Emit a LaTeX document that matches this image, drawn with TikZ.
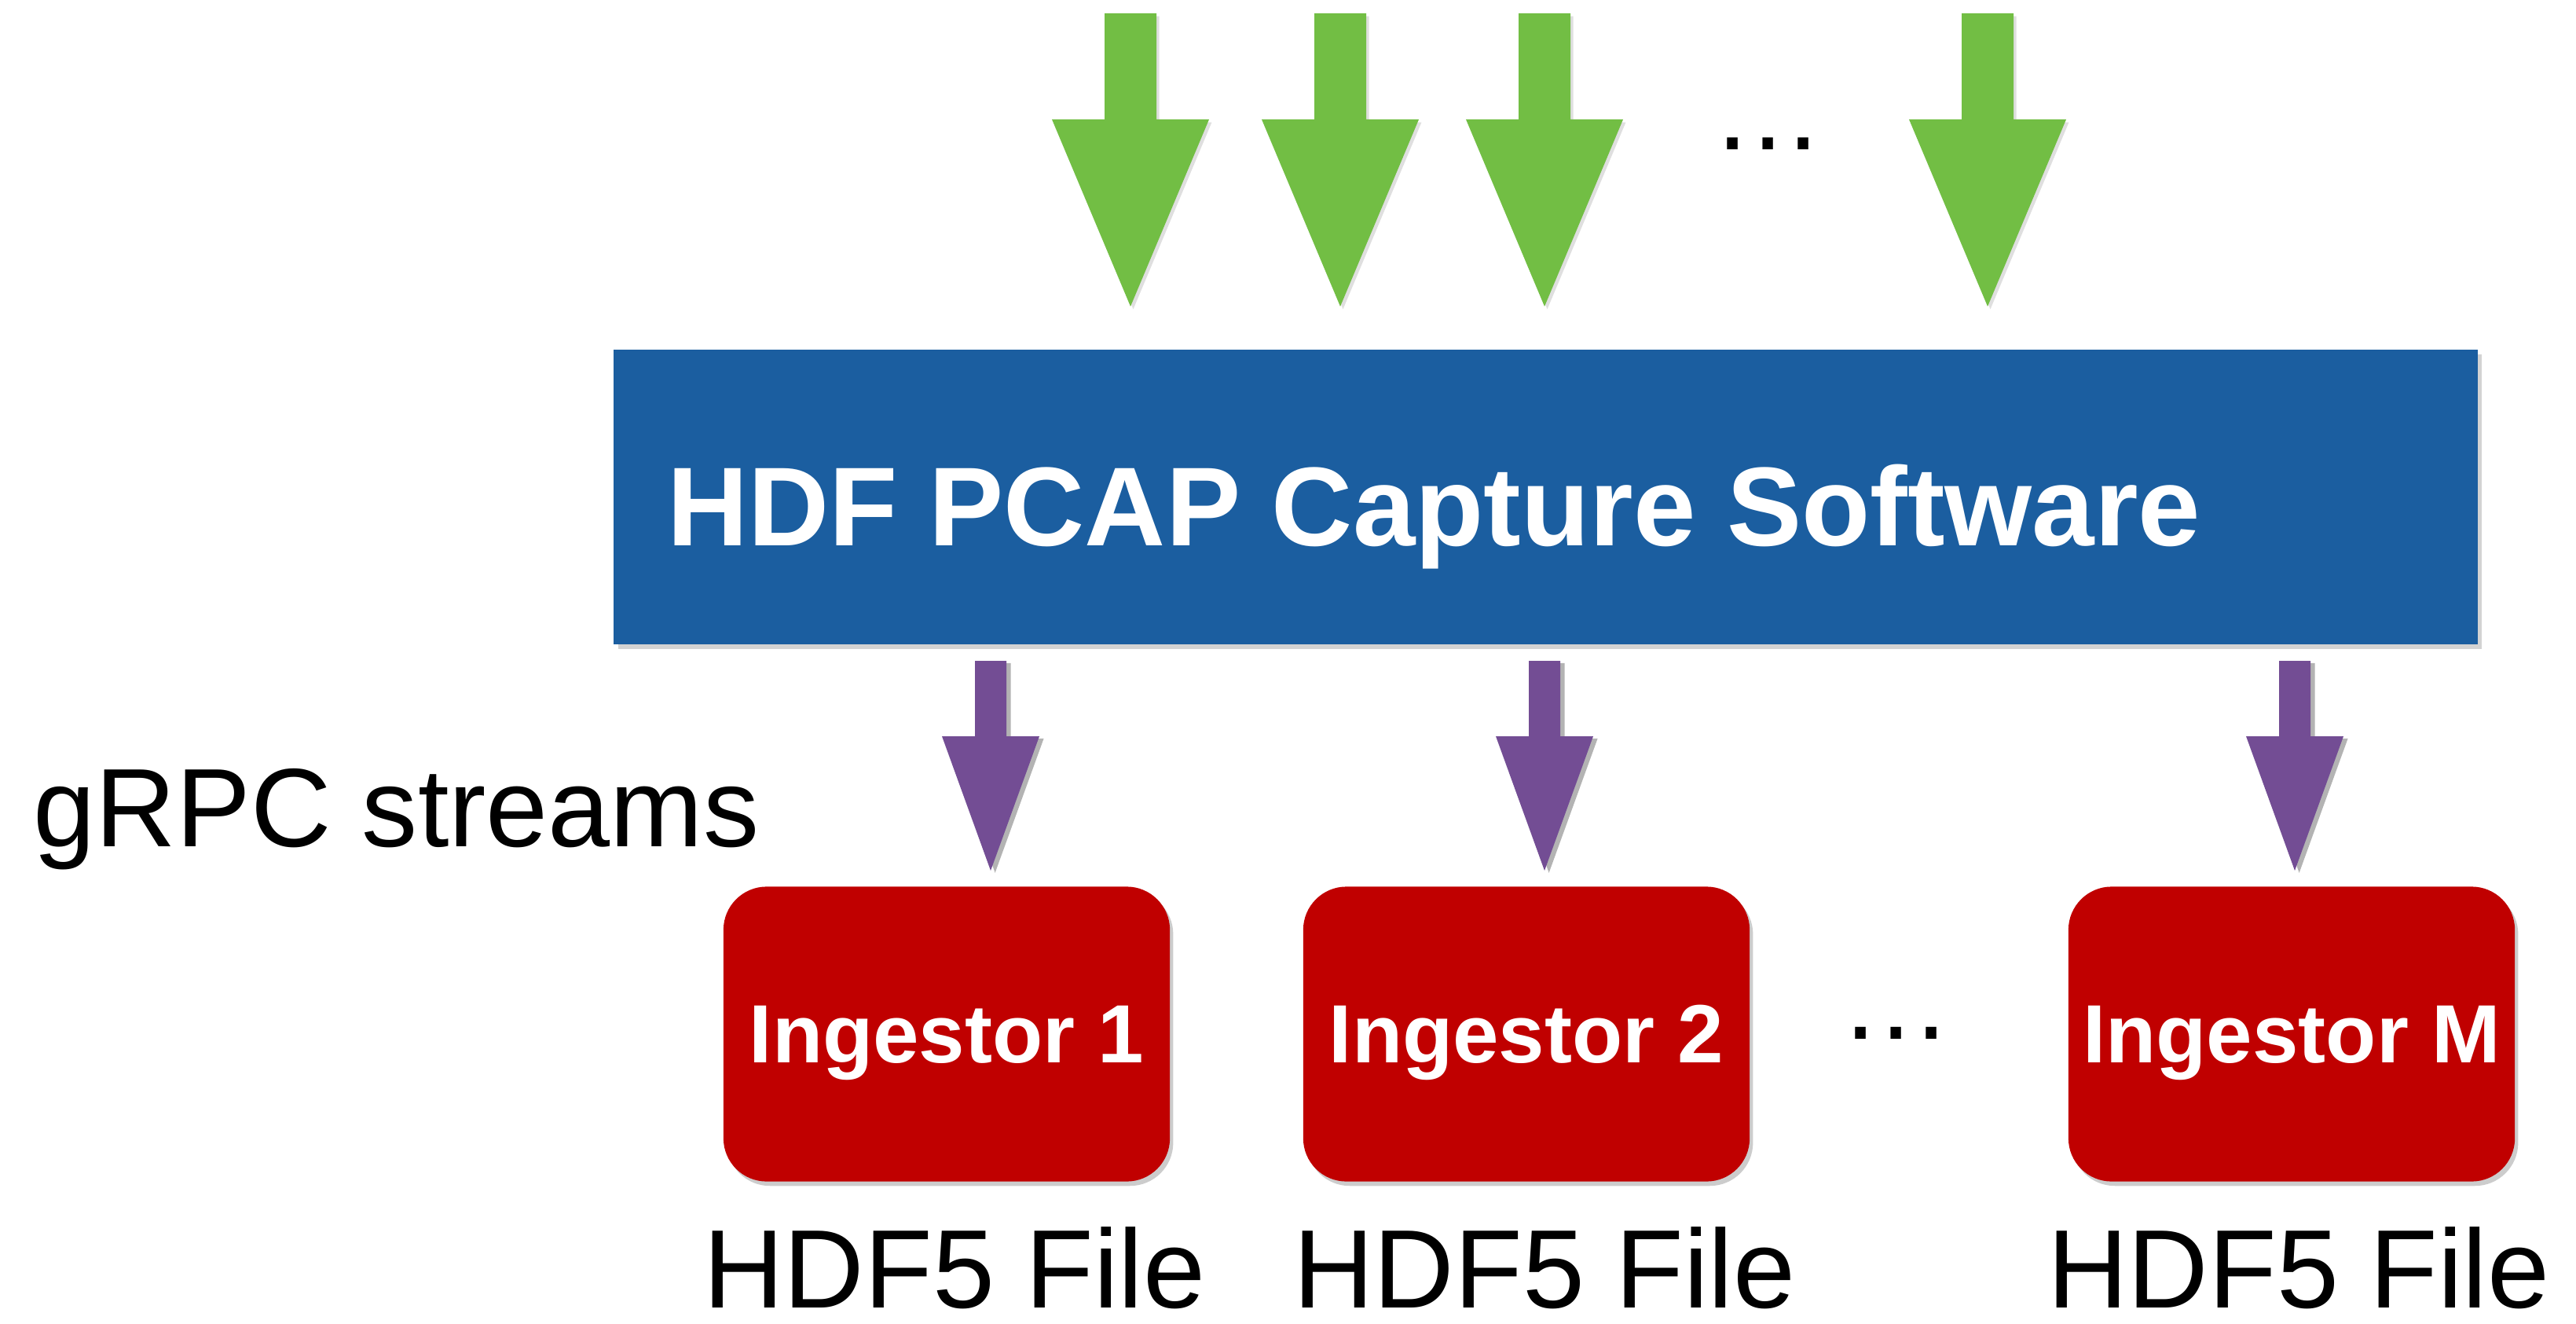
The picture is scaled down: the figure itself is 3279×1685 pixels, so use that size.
\documentclass[tikz,border=0pt]{standalone}
\usepackage{fontspec}
\setmainfont{Liberation Sans}
\usetikzlibrary{shadows}
\definecolor{capblue}{RGB}{27,94,160}
\definecolor{ingred}{RGB}{192,0,0}
\definecolor{ingreen}{RGB}{114,190,68}
\definecolor{grpcpurple}{RGB}{115,77,148}
\tikzset{
  bigtext/.style={font=\fontsize{40.4pt}{48pt}\selectfont, inner sep=0pt},
  filetext/.style={bigtext, text depth=0pt, anchor=base},
  captext/.style={font=\bfseries\fontsize{40.6pt}{48pt}\selectfont, text=white, inner sep=0pt},
  capbox/.style={fill=capblue, draw=none, minimum width=23.71cm, minimum height=3.75cm,
    drop shadow={shadow xshift=1.6pt, shadow yshift=-1.6pt, opacity=0.35}},
  ingbox/.style={fill=ingred, draw=none, rounded corners=0.55cm, minimum width=5.68cm, minimum height=3.75cm,
    text=white, font=\bfseries\fontsize{29.9pt}{36pt}\selectfont, text depth=0pt, inner sep=0pt,
    drop shadow={shadow xshift=1.2pt, shadow yshift=-1.6pt, opacity=0.4}},
  greenarrow/.pic={
    \fill[ingreen, drop shadow={shadow xshift=1pt, shadow yshift=-1pt, opacity=0.25}]
      (-33,-373) -- (33,-373) -- (33,-238) -- (100,-238) -- (0,0) -- (-100,-238) -- (-33,-238) -- cycle;
  },
  purplearrow/.pic={
    \fill[grpcpurple, drop shadow={shadow xshift=1.6pt, shadow yshift=-0.8pt, opacity=0.6}]
      (-20,-267) -- (20,-267) -- (20,-171) -- (62,-171) -- (0,0) -- (-62,-171) -- (-20,-171) -- cycle;
  },
}
\begin{document}
\begin{tikzpicture}[x=0.01cm, y=-0.01cm]
\useasboundingbox (0,0) rectangle (3279,1685);

% main capture box
\node[capbox] (cap) at (1967.5,632.5) {};
\node[captext, anchor=base west] (caplabel) at (849,694) {HDF PCAP Capture Software};

% ingestor boxes
\node[ingbox] (ing1) at (1205,1316) {Ingestor 1};
\node[ingbox] (ing2) at (1943,1316) {Ingestor 2};
\node[ingbox] (ingM) at (2917,1316) {Ingestor M};

% incoming green arrows (tips)
\coordinate (g1) at (1439,390);
\coordinate (g2) at (1706,390);
\coordinate (g3) at (1966,390);
\coordinate (g4) at (2530,390);
\foreach \g in {g1,g2,g3,g4} { \pic at (\g) {greenarrow}; }
\node[bigtext, anchor=base] (topdots) at (2251,191) {…};

% gRPC stream arrows (tips)
\coordinate (p1) at (1261,1108);
\coordinate (p2) at (1966,1108);
\coordinate (p3) at (2921,1108);
\foreach \p in {p1,p2,p3} { \pic at (\p) {purplearrow}; }

\node[bigtext, anchor=base west] (grpc) at (42,1077) {gRPC streams};
\node[bigtext, anchor=base] (botdots) at (2414,1322) {…};

% file labels
\node[filetext] (f1) at (1215,1664) {HDF5 File};
\node[filetext] (f2) at (1966,1664) {HDF5 File};
\node[filetext] (f3) at (2926,1664) {HDF5 File};
\end{tikzpicture}
\end{document}
